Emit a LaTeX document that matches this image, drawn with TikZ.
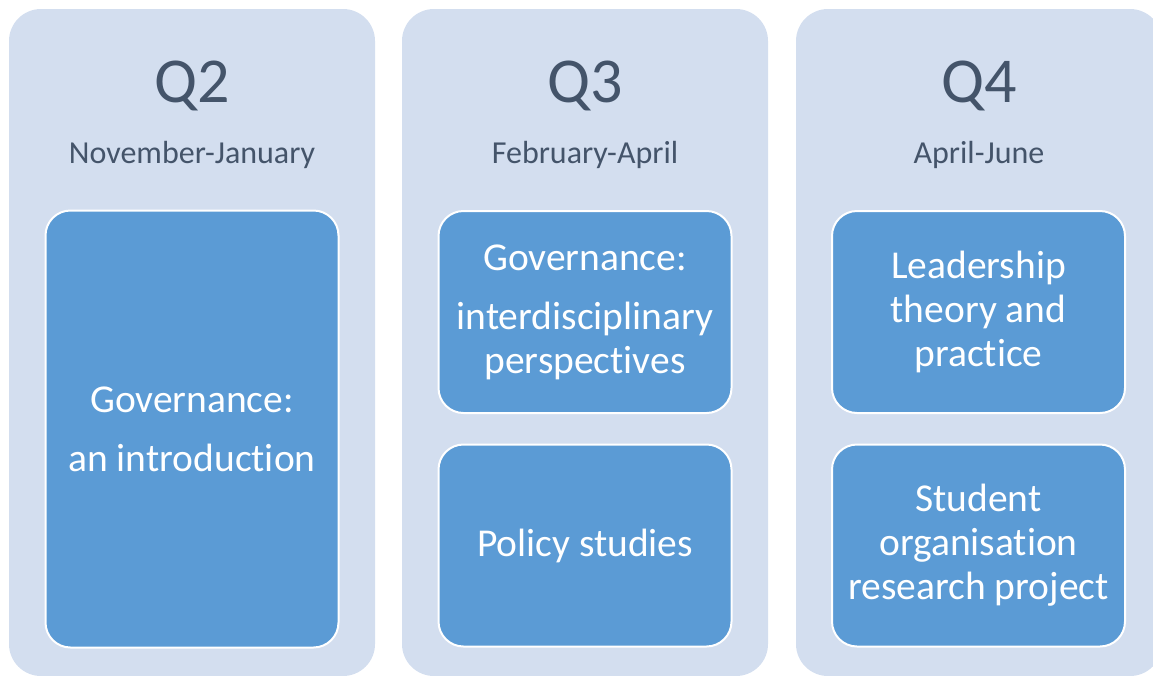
\documentclass[tikz,border=0pt]{standalone}
\usepackage{fontspec}
\setmainfont{Carlito}[RawFeature={-liga}]
\usepackage{tikz}
\usetikzlibrary{positioning}

\definecolor{panelgrey}{RGB}{211,222,239}
\definecolor{boxblue}{RGB}{91,155,213}
\definecolor{titledark}{RGB}{68,84,106}

\tikzset{
  panel/.style={fill=panelgrey, rounded corners=32pt, minimum width=366pt, minimum height=667pt, inner sep=0pt},
  quarter/.style={text=titledark, font=\fontsize{64}{70}\selectfont, anchor=base},
  months/.style={text=titledark, font=\fontsize{32}{38}\selectfont, anchor=base},
  course/.style={fill=boxblue, draw=white, line width=2pt, rounded corners=25pt, minimum width=293pt, inner sep=0pt, text=white, align=center, font=\fontsize{39.5}{44}\selectfont},
}

\begin{document}
\begin{tikzpicture}[x=1pt, y=-1pt]

\useasboundingbox (0,0) rectangle (1153,675);
\clip (0,0) rectangle (1153,675);

% Background panels, one per quarter
\node[panel] (panelQ2) at (192,342.5) {};
\node[panel] (panelQ3) at (585,342.5) {};
\node[panel] (panelQ4) at (979,342.5) {};

% Quarter headings
\node[quarter] (headQ2) at (192,102) {Q2};
\node[months] (monthsQ2) at (192,163) {November-January};

\node[quarter] (headQ3) at (585,102) {Q3};
\node[months] (monthsQ3) at (585,163) {February-April};

\node[quarter] (headQ4) at (979,102) {Q4};
\node[months] (monthsQ4) at (979,163) {April-June};

% Q2 course
\node[course, minimum height=437pt] (govintro) at (192,429) {Governance:\\[15pt] an introduction};

% Q3 courses
\node[course, minimum height=202pt] (govinter) at (585,312) {Governance:\\[15pt] interdisciplinary\\ perspectives};
\node[course, minimum height=202pt] (policy) at (585,545.5) {Policy studies};

% Q4 courses
\node[course, minimum height=202pt] (leader) at (978.5,312) {Leadership\\ theory and\\ practice};
\node[course, minimum height=202pt] (research) at (978.5,545.5) {Student\\ organisation\\ research project};

\end{tikzpicture}
\end{document}
